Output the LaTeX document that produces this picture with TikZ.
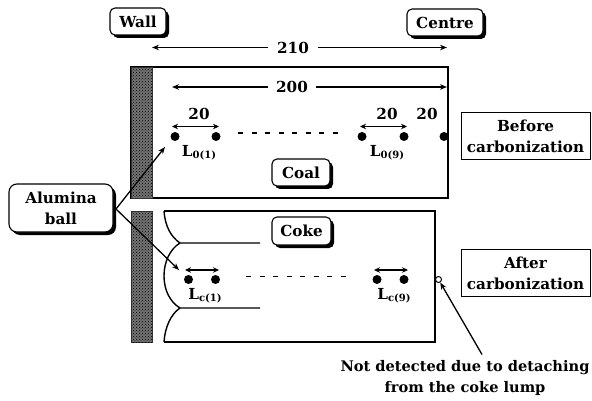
\documentclass[tikz,border=0pt]{standalone}
\usepackage{fontspec}
\setmainfont{DejaVu Serif}
\usetikzlibrary{arrows.meta,shadows,patterns}
\tikzset{
  lab/.style={font=\fontsize{15.2}{21}\selectfont\bfseries,inner sep=0pt,align=center},
  shbox/.style={lab,draw=black,line width=1.1pt,rounded corners=5pt,fill=white,minimum height=27pt,
    drop shadow={shadow xshift=3pt,shadow yshift=-3pt,fill=black,opacity=1}},
  plainbox/.style={lab,draw=black,line width=1pt,fill=white,minimum width=129pt,minimum height=47pt},
  ball/.style={circle,fill=black,inner sep=0pt,minimum size=9pt},
  open/.style={circle,draw=black,line width=1pt,fill=white,inner sep=0pt,minimum size=6pt},
  wallbar/.style={fill=black!55,draw=black!80,line width=.6pt},
  tip/.style={-{Stealth[length=7pt,width=5.5pt]},line width=1.3pt},
  dbl/.style={{Stealth[length=6pt,width=5.5pt]}-{Stealth[length=6pt,width=5.5pt]},line width=1.4pt},
  frame/.style={line width=1.4pt,draw=black},
  dotsline/.style={line width=1.4pt,dash pattern=on 5pt off 8.5pt}
}
\newcommand{\subL}[2]{L\raisebox{-2pt}{\fontsize{#2}{#2}\selectfont #1}}
\begin{document}
\begin{tikzpicture}[x=1pt,y=-1pt]
\useasboundingbox (0,0) rectangle (592,401);
% top frame
\draw[frame,fill=white] (131,67) rectangle (448,198);
\fill[wallbar] (131,67) rectangle (152,198);
\fill[pattern=crosshatch dots,pattern color=black] (131,67) rectangle (152,198);
% lower wall
\fill[wallbar] (131,211) rectangle (152,342);
\fill[pattern=crosshatch dots,pattern color=black] (131,211) rectangle (152,342);
% lower frame
\draw[frame] (164,211) -- (435,211) -- (435,342) -- (164,342);
\draw[frame] (164,211) .. controls (165,226) and (171,237) .. (180,243) -- (260,243);
\draw[frame] (180,243) .. controls (170,249) and (164,262) .. (164,276) .. controls (164,290) and (170,302) .. (180,308) -- (260,308);
\draw[frame] (164,342) .. controls (165,327) and (171,314) .. (180,308);

% header boxes
\node[shbox,minimum width=56pt] (wall) at (138,21.5) {Wall};
\node[shbox,minimum width=76pt] (centre) at (445,22.5) {Centre};
\node[shbox,minimum width=58pt] (coal) at (301,172.5) {Coal};
\node[shbox,minimum width=59pt,minimum height=28pt] (coke) at (301.5,231) {Coke};
\node[shbox,minimum width=104pt,minimum height=48pt,rounded corners=8pt] (alumina) at (61,208) {Alumina\\ball};
\node[plainbox] (before) at (525.5,136.5) {Before\\carbonization};
\node[plainbox] (after) at (525.5,273) {After\\carbonization};

% dimension labels
\node[lab] (d210) at (293,47.5) {210};
\node[lab] (d200) at (292,87) {200};
\coordinate (a210l) at (152,47.5);
\coordinate (a210r) at (447,47.5);
\coordinate (a200l) at (172,87);
\coordinate (a200r) at (447,87);
\draw[tip] (d210.west) ++(-9,0) -- (a210l);
\draw[tip] (d210.east) ++(9,0) -- (a210r);
\draw[tip] (d200.west) ++(-8,0) -- (a200l);
\draw[tip] (d200.east) ++(8,0) -- (a200r);

% top balls
\node[ball] (t1) at (175,136.5) {};
\node[ball] (t2) at (216,136.5) {};
\node[ball] (t3) at (362,136.5) {};
\node[ball] (t4) at (404,136.5) {};
\node[ball] (t5) at (444,136.5) {};
\node[lab] (n1) at (199,114) {20};
\node[lab] (n2) at (387,114) {20};
\node[lab] (n3) at (427,114) {20};
\coordinate (ta1) at (172,126.5);
\coordinate (ta2) at (219,126.5);
\coordinate (ta3) at (360,126.5);
\coordinate (ta4) at (407,126.5);
\draw[dbl] (ta1) -- (ta2);
\draw[dbl] (ta3) -- (ta4);
\coordinate (td1) at (238,133);
\coordinate (td2) at (342,133);
\draw[dotsline] (td1) -- (td2);
\node[lab] (l01) at (199,153) {\subL{0(1)}{10}};
\node[lab] (l09) at (387,153) {\subL{0(9)}{10}};

% lower balls
\node[ball] (b1) at (188.5,279.5) {};
\node[ball] (b2) at (215.5,279.5) {};
\node[ball] (b3) at (377,279.5) {};
\node[ball] (b4) at (404,279.5) {};
\node[open] (b5) at (438.5,279.5) {};
\coordinate (ba1) at (185,270);
\coordinate (ba2) at (219,270);
\coordinate (ba3) at (374,270);
\coordinate (ba4) at (408,270);
\draw[dbl] (ba1) -- (ba2);
\draw[dbl] (ba3) -- (ba4);
\coordinate (bd1) at (246,276.5);
\coordinate (bd2) at (349,276.5);
\draw[dotsline] (bd1) -- (bd2);
\node[lab] (lc1) at (205,296) {\subL{c(1)}{10}};
\node[lab] (lc9) at (394,296) {\subL{c(9)}{10}};

% leaders
\coordinate (aorig) at (116,209);
\coordinate (aup) at (165,147);
\coordinate (adown) at (179,270);
\draw[tip] (aorig) -- (aup);
\draw[tip] (aorig) -- (adown);
\node[lab,font=\fontsize{14.6}{21}\selectfont\bfseries] (note) at (465,377.5) {Not detected due to detaching\\from the coke lump};
\coordinate (nstart) at (482,354.5);
\draw[tip] (nstart) -- (b5);
\end{tikzpicture}
\end{document}
